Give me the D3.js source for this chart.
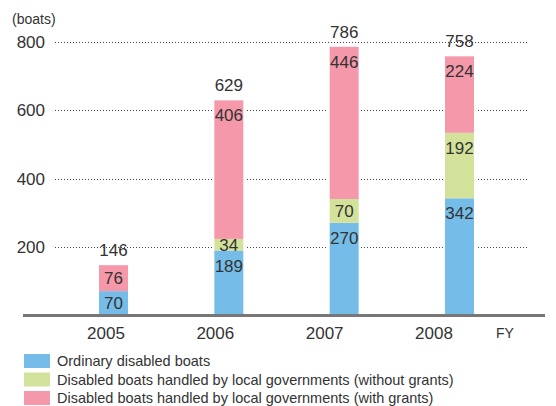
<!DOCTYPE html>
<html>
<head>
<meta charset="utf-8">
<script src="https://cdn.jsdelivr.net/npm/d3@7"></script>
<style>
  body { margin: 0; background: #fff; }
  svg text { font-family: "Liberation Sans", Arial, sans-serif; fill: #333; }
</style>
</head>
<body>
<div id="viz1"></div>
<script>
// =====================
// data
// =====================
const years = ["2005", "2006", "2007", "2008"];
const ordinary = [70, 189, 270, 342];
const noGrants = [0, 34, 70, 192];
const withGrants = [76, 406, 446, 224];
const totals = [146, 629, 786, 758];
const yTicks = [200, 400, 600, 800];

const seriesNames = [
    "Ordinary disabled boats",
    "Disabled boats handled by local governments (without grants)",
    "Disabled boats handled by local governments (with grants)"
];
const colors = ["#75bde8", "#d3e29b", "#f598a9"];

// =====================
// layout
// =====================
const W = 556, H = 406;

const y = d3.scaleLinear()
    .domain([0, 800])
    .range([315, 42]);

// bar slots
const x = d3.scaleBand()
    .domain(years)
    .range([99, 474])
    .paddingInner(0.7486)
    .paddingOuter(0);

// year labels sit a bit left of the bars
const xLab = d3.scalePoint()
    .domain(years)
    .range([106, 434]);

const svg = d3.select("#viz1").append("svg")
    .attr("width", W)
    .attr("height", H);

// gridlines
svg.selectAll(".grid")
    .data(yTicks)
    .join("line")
    .attr("class", "grid")
    .attr("x1", 55).attr("x2", 528)
    .attr("y1", d => Math.round(y(d)) + 0.5)
    .attr("y2", d => Math.round(y(d)) + 0.5)
    .attr("stroke", "#444")
    .attr("stroke-width", 1)
    .attr("stroke-dasharray", "1,2");

// y tick labels
svg.selectAll(".ytick")
    .data(yTicks)
    .join("text")
    .attr("class", "ytick")
    .attr("x", 45)
    .attr("y", d => y(d))
    .attr("dy", "0.36em")
    .attr("text-anchor", "end")
    .style("font-size", "17px")
    .text(d => d);

svg.append("text")
    .attr("x", 12).attr("y", 24)
    .style("font-size", "14px")
    .text("(boats)");

// stack the three series
const rows = years.map((yr, i) => ({year: yr, s0: ordinary[i], s1: noGrants[i], s2: withGrants[i]}));
const stack = d3.stack().keys(["s0", "s1", "s2"])(rows);

// white gap around bars in the gridlines
svg.selectAll(".gap")
    .data(years)
    .join("rect")
    .attr("class", "gap")
    .attr("x", d => x(d) - 2)
    .attr("width", x.bandwidth() + 4)
    .attr("y", (d, i) => y(totals[i]))
    .attr("height", (d, i) => y(0) - y(totals[i]))
    .attr("fill", "#fff");

const layers = svg.selectAll(".layer")
    .data(stack)
    .join("g")
    .attr("class", "layer")
    .attr("fill", (d, i) => colors[i]);

layers.selectAll("rect")
    .data(d => d.filter(p => p[1] - p[0] > 0))
    .join("rect")
    .attr("x", d => x(d.data.year))
    .attr("width", x.bandwidth())
    .attr("y", d => y(d[1]))
    .attr("height", d => y(d[0]) - y(d[1]));

// segment value labels
layers.selectAll("text")
    .data(d => d.filter(p => p[1] - p[0] > 0))
    .join("text")
    .attr("x", d => x(d.data.year) + x.bandwidth() / 2)
    .attr("y", d => {
        const top = y(d[1]), bot = y(d[0]);
        return Math.min(top + 15, (top + bot) / 2);
    })
    .attr("dy", "0.36em")
    .attr("text-anchor", "middle")
    .style("font-size", "17px")
    .text(d => d[1] - d[0]);

// totals
svg.selectAll(".total")
    .data(years)
    .join("text")
    .attr("class", "total")
    .attr("x", d => x(d) + x.bandwidth() / 2)
    .attr("y", (d, i) => y(totals[i]) - 15)
    .attr("dy", "0.36em")
    .attr("text-anchor", "middle")
    .style("font-size", "17px")
    .text((d, i) => totals[i]);

// baseline
svg.append("line")
    .attr("x1", 23).attr("x2", 545)
    .attr("y1", y(0) + 0.5).attr("y2", y(0) + 0.5)
    .attr("stroke", "#777")
    .attr("stroke-width", 3);

// year labels
svg.selectAll(".year")
    .data(years)
    .join("text")
    .attr("class", "year")
    .attr("x", d => xLab(d))
    .attr("y", 333)
    .attr("dy", "0.36em")
    .attr("text-anchor", "middle")
    .style("font-size", "17px")
    .text(d => d);

svg.append("text")
    .attr("x", 496).attr("y", 333)
    .attr("dy", "0.36em")
    .style("font-size", "14px")
    .text("FY");

// legend
const leg = svg.selectAll(".leg")
    .data(seriesNames)
    .join("g")
    .attr("class", "leg")
    .attr("transform", (d, i) => "translate(24," + (354 + i * 18.5) + ")");

leg.append("rect")
    .attr("width", 26).attr("height", 14)
    .attr("fill", (d, i) => colors[i]);

leg.append("text")
    .attr("x", 33).attr("y", 7)
    .attr("dy", "0.36em")
    .style("font-size", "14.5px")
    .text(d => d);
</script>
</body>
</html>
